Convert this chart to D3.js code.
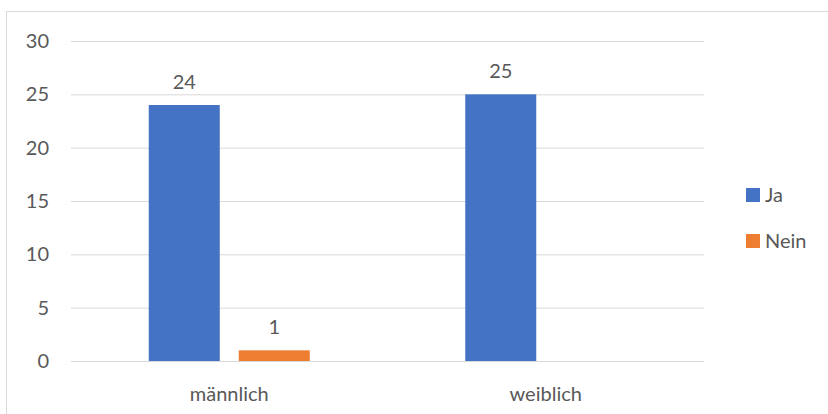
<!DOCTYPE html>
<html>
<head>
<meta charset="utf-8">
<script src="https://cdn.jsdelivr.net/npm/d3@7"></script>
<style>
	html, body { margin: 0; padding: 0; background: #fff; }
	#canvas { width: 828px; height: 414px; }
	text { font-family: Lato, 'Open Sans', sans-serif; fill: #595959; }
</style>
</head>
<body>
<div id="canvas"></div>
<script>
const categories = ['männlich', 'weiblich'];
const seriesNames = ['Ja', 'Nein'];
const jaValues = [24, 25];
const neinValues = [1, null];
const yTicks = [0, 5, 10, 15, 20, 25, 30];
const colors = ['#4472C4', '#ED7D31'];

const chart = {
	dims: { width: 828, height: 414 },
	margins: { top: 41, bottom: 53, left: 71, right: 124 },
	fontSize: 20,
};

drawChart();

function drawChart() {
	const { width, height } = chart.dims;
	const { margins, fontSize } = chart;
	const seriesValues = [jaValues, neinValues];

	const svg = d3
		.select('#canvas')
		.append('svg')
		.attr('width', width)
		.attr('height', height);

	// chart area frame (runs off the picture to the right and bottom)
	svg.append('rect')
		.attr('x', 6.5)
		.attr('y', 11.5)
		.attr('width', width + 20)
		.attr('height', height + 20)
		.attr('fill', 'none')
		.attr('stroke', '#d9d9d9');

	const xScale = d3
		.scaleBand()
		.domain(categories)
		.range([margins.left, width - margins.right])
		.paddingInner(0.4913)
		.paddingOuter(0.2457);

	const seriesScale = d3
		.scaleBand()
		.domain(seriesNames)
		.range([0, xScale.bandwidth()])
		.paddingInner(0.211);

	const yScale = d3
		.scaleLinear()
		.domain([0, 30])
		.range([height - margins.bottom, margins.top]);

	// gridlines + y labels
	const yAxis = svg
		.append('g')
		.attr('transform', `translate(${margins.left}, 0)`)
		.call(
			d3
				.axisLeft(yScale)
				.tickValues(yTicks)
				.tickSize(margins.left + margins.right - width)
				.tickPadding(22)
		);
	yAxis.select('.domain').remove();
	yAxis.selectAll('.tick line').attr('stroke', '#d9d9d9').attr('stroke-width', 1);
	yAxis.selectAll('.tick text')
		.attr('font-size', fontSize)
		.attr('font-family', 'Lato, sans-serif')
		.attr('fill', '#595959');

	// x labels
	const xAxis = svg
		.append('g')
		.attr('transform', `translate(0, ${height - margins.bottom})`)
		.call(d3.axisBottom(xScale).tickSize(0).tickPadding(26));
	xAxis.select('.domain').remove();
	xAxis.selectAll('.tick text')
		.attr('font-size', fontSize)
		.attr('font-family', 'Lato, sans-serif')
		.attr('fill', '#595959');

	// bars
	const barsData = [];
	categories.forEach((cat, ci) => {
		seriesNames.forEach((s, si) => {
			const v = seriesValues[si][ci];
			if (v != null) barsData.push({ cat, s, si, v });
		});
	});

	const bars = svg.append('g').attr('id', 'bars');
	bars.selectAll('.bar')
		.data(barsData)
		.join('rect')
		.attr('class', 'bar')
		.attr('x', d => xScale(d.cat) + seriesScale(d.s))
		.attr('width', seriesScale.bandwidth())
		.attr('y', d => yScale(d.v))
		.attr('height', d => yScale(0) - yScale(d.v))
		.attr('fill', d => colors[d.si]);

	bars.selectAll('.label')
		.data(barsData)
		.join('text')
		.attr('class', 'label')
		.attr('x', d => xScale(d.cat) + seriesScale(d.s) + seriesScale.bandwidth() / 2)
		.attr('y', d => yScale(d.v) - 16.5)
		.attr('text-anchor', 'middle')
		.attr('font-size', fontSize)
		.text(d => d.v);

	// legend
	const legend = svg.append('g').attr('transform', 'translate(746, 188)');
	const items = legend
		.selectAll('g')
		.data(seriesNames)
		.join('g')
		.attr('transform', (d, i) => `translate(0, ${i * 46})`);
	items.append('rect')
		.attr('width', 14)
		.attr('height', 14)
		.attr('fill', (d, i) => colors[i]);
	items.append('text')
		.attr('x', 19)
		.attr('y', 14)
		.attr('font-size', fontSize)
		.text(d => d);
}
</script>
</body>
</html>
